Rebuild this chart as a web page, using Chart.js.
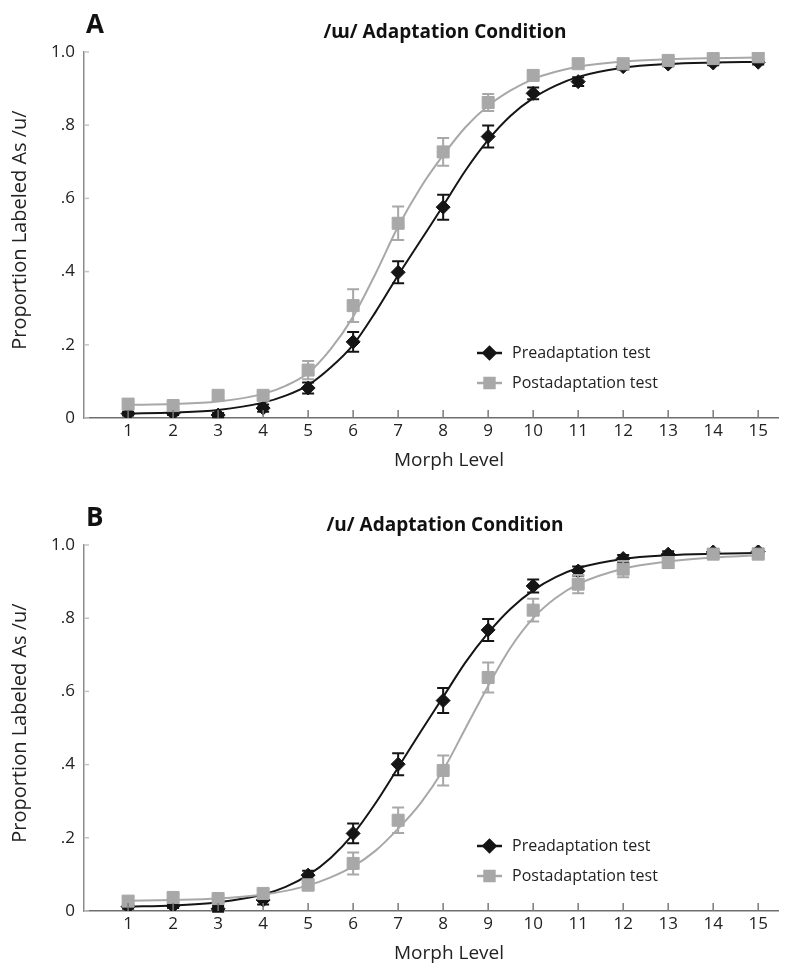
<!DOCTYPE html>
<html>
<head>
<meta charset="utf-8">
<title>Adaptation conditions</title>
<script src="https://cdn.jsdelivr.net/npm/chart.js@4.4.1/dist/chart.umd.min.js"></script>
<style>
  html, body { margin: 0; padding: 0; background: #fff; }
  canvas { position: absolute; left: 0; }
</style>
</head>
<body>
<canvas id="chartA" width="793" height="485" style="top:0px"></canvas>
<canvas id="chartB" width="793" height="477" style="top:493px"></canvas>
<script>
// categories / ticks
const morphLevels = [1, 2, 3, 4, 5, 6, 7, 8, 9, 10, 11, 12, 13, 14, 15];
const yTickValues = [0, 0.2, 0.4, 0.6, 0.8, 1.0];
const yTickLabels = ['0', '.2', '.4', '.6', '.8', '1.0'];
const seriesNames = ['Preadaptation test', 'Postadaptation test'];

// panel A: /ɯ/ adaptation
const preA = [0.012, 0.013, 0.008, 0.027, 0.082, 0.208, 0.398, 0.576, 0.769, 0.887, 0.919, 0.960, 0.967, 0.970, 0.972];
const preErrA = [0.005, 0.005, 0.006, 0.010, 0.015, 0.027, 0.030, 0.034, 0.030, 0.016, 0.012, 0.008, 0.006, 0.006, 0.006];
const postA = [0.038, 0.034, 0.062, 0.062, 0.131, 0.307, 0.532, 0.727, 0.862, 0.936, 0.968, 0.968, 0.977, 0.982, 0.987];
const postErrA = [0.008, 0.006, 0.010, 0.010, 0.025, 0.045, 0.046, 0.038, 0.023, 0.013, 0.010, 0.008, 0.008, 0.008, 0.008];

// panel B: /u/ adaptation
const preB = [0.012, 0.014, 0.006, 0.030, 0.098, 0.212, 0.401, 0.575, 0.768, 0.888, 0.929, 0.963, 0.975, 0.981, 0.982];
const preErrB = [0.006, 0.006, 0.008, 0.012, 0.012, 0.027, 0.030, 0.034, 0.030, 0.018, 0.012, 0.010, 0.008, 0.008, 0.008];
const postB = [0.027, 0.037, 0.034, 0.048, 0.071, 0.130, 0.248, 0.384, 0.638, 0.822, 0.893, 0.934, 0.952, 0.975, 0.975];
const postErrB = [0.008, 0.008, 0.008, 0.010, 0.015, 0.030, 0.035, 0.041, 0.041, 0.031, 0.025, 0.022, 0.015, 0.010, 0.010];

// fitted curves
const fitX = [1, 2, 3, 4, 4.5, 5, 5.5, 6, 6.5, 7, 7.5, 8, 8.5, 9, 9.5, 10, 10.5, 11, 12, 13, 14, 15];
const preFitA = [0.012, 0.015, 0.022, 0.042, 0.061, 0.090, 0.138, 0.200, 0.290, 0.390, 0.485, 0.580, 0.677, 0.760, 0.826, 0.874, 0.908, 0.932, 0.957, 0.967, 0.971, 0.973];
const postFitA = [0.036, 0.038, 0.045, 0.066, 0.088, 0.123, 0.188, 0.277, 0.395, 0.523, 0.630, 0.718, 0.795, 0.853, 0.895, 0.926, 0.946, 0.960, 0.974, 0.980, 0.983, 0.985];
const preFitB = [0.012, 0.015, 0.024, 0.045, 0.066, 0.098, 0.145, 0.210, 0.295, 0.392, 0.490, 0.585, 0.680, 0.760, 0.826, 0.876, 0.912, 0.937, 0.962, 0.972, 0.976, 0.978];
const postFitB = [0.028, 0.030, 0.034, 0.045, 0.055, 0.070, 0.092, 0.122, 0.165, 0.225, 0.295, 0.385, 0.500, 0.615, 0.720, 0.800, 0.855, 0.893, 0.935, 0.955, 0.966, 0.972];

const FONT = "'Open Sans', 'Noto Sans', sans-serif";
const BLACK = '#151515';
const GREY = '#a8a8a8';

function toPoints(xs, ys) {
    return xs.map((x, i) => ({ x: x, y: ys[i] }));
}

// error bars under each point dataset
const errorBars = {
    id: 'errorBars',
    beforeDatasetDraw(chart, args) {
        const ds = chart.data.datasets[args.index];
        if (!ds.errors) return;
        const ctx = chart.ctx;
        const xs = chart.scales.x, ys = chart.scales.y;
        ctx.save();
        ctx.strokeStyle = ds.borderColor;
        ctx.lineWidth = 2;
        ds.data.forEach((p, i) => {
            const e = ds.errors[i];
            const px = xs.getPixelForValue(p.x);
            const top = ys.getPixelForValue(p.y + e);
            const bot = ys.getPixelForValue(p.y - e);
            ctx.beginPath();
            ctx.moveTo(px, top); ctx.lineTo(px, bot);
            ctx.moveTo(px - 6, top); ctx.lineTo(px + 6, top);
            ctx.moveTo(px - 6, bot); ctx.lineTo(px + 6, bot);
            ctx.stroke();
        });
        ctx.restore();
    }
};

// titles, inner ticks, legend
const decor = {
    id: 'decor',
    afterDraw(chart, args, opts) {
        const ctx = chart.ctx;
        const xs = chart.scales.x, ys = chart.scales.y;
        const area = chart.chartArea;
        ctx.save();

        // inward tick marks
        ctx.lineWidth = 1.5;
        ctx.strokeStyle = '#c4c4c4';
        yTickValues.forEach(v => {
            const py = ys.getPixelForValue(v);
            ctx.beginPath();
            ctx.moveTo(area.left, py);
            ctx.lineTo(area.left + 5, py);
            ctx.stroke();
        });
        ctx.strokeStyle = '#7a7a7a';
        morphLevels.forEach(v => {
            const px = xs.getPixelForValue(v);
            ctx.beginPath();
            ctx.moveTo(px, area.bottom);
            ctx.lineTo(px, area.bottom - 8);
            ctx.stroke();
        });

        // panel letter + title
        ctx.fillStyle = '#111';
        ctx.textBaseline = 'alphabetic';
        ctx.textAlign = 'left';
        ctx.font = 'bold 26px ' + FONT;
        ctx.fillText(opts.letter, 86, 33);
        ctx.textAlign = 'center';
        ctx.font = 'bold 19px ' + FONT;
        ctx.fillText(opts.title, 445, 38);

        // axis titles
        ctx.fillStyle = '#222';
        ctx.font = '19px ' + FONT;
        ctx.fillText('Morph Level', 449, 466);
        ctx.save();
        ctx.translate(26, 230);
        ctx.rotate(-Math.PI / 2);
        ctx.font = '20px ' + FONT;
        ctx.fillText('Proportion Labeled As /u/', 0, 0);
        ctx.restore();

        // legend
        const rows = [
            { name: seriesNames[0], color: BLACK, style: 'rectRot', r: 6, y: 353 },
            { name: seriesNames[1], color: GREY, style: 'rect', r: 7, y: 383 }
        ];
        ctx.font = '16px ' + FONT;
        ctx.textAlign = 'left';
        ctx.textBaseline = 'middle';
        rows.forEach(row => {
            ctx.strokeStyle = row.color;
            ctx.fillStyle = row.color;
            ctx.lineWidth = 2.5;
            ctx.beginPath();
            ctx.moveTo(477, row.y);
            ctx.lineTo(502, row.y);
            ctx.stroke();
            Chart.helpers.drawPoint(ctx, { pointStyle: row.style, radius: row.r, rotation: 0, borderWidth: 1 }, 489.5, row.y);
            ctx.fillStyle = '#222';
            ctx.fillText(row.name, 512, row.y);
        });
        ctx.restore();
    }
};

function buildPanel(canvasId, letter, title, pre, preErr, post, postErr, preFit, postFit) {
    return new Chart(document.getElementById(canvasId), {
        type: 'scatter',
        data: {
            datasets: [
                {
                    label: seriesNames[1],
                    data: toPoints(morphLevels, post),
                    errors: postErr,
                    pointStyle: 'rect',
                    pointRadius: 8.5,
                    backgroundColor: GREY,
                    borderColor: GREY,
                    borderWidth: 1,
                    showLine: false
                },
                {
                    label: seriesNames[0],
                    data: toPoints(morphLevels, pre),
                    errors: preErr,
                    pointStyle: 'rectRot',
                    pointRadius: 7,
                    backgroundColor: BLACK,
                    borderColor: BLACK,
                    borderWidth: 1,
                    showLine: false
                },
                {
                    label: 'post fit',
                    data: toPoints(fitX, postFit),
                    showLine: true,
                    pointRadius: 0,
                    borderColor: GREY,
                    borderWidth: 2,
                    cubicInterpolationMode: 'monotone'
                },
                {
                    label: 'pre fit',
                    data: toPoints(fitX, preFit),
                    showLine: true,
                    pointRadius: 0,
                    borderColor: BLACK,
                    borderWidth: 2,
                    cubicInterpolationMode: 'monotone'
                }
            ]
        },
        options: {
            responsive: false,
            animation: false,
            events: [],
            layout: { padding: { left: 0, right: 15, top: 52, bottom: 0 } },
            plugins: {
                legend: { display: false },
                tooltip: { enabled: false },
                decor: { letter: letter, title: title }
            },
            scales: {
                x: {
                    type: 'linear',
                    min: 0.02,
                    max: 15.44,
                    afterBuildTicks: s => { s.ticks = morphLevels.map(v => ({ value: v })); },
                    afterFit: s => { s.height = s.chart.height - 418; },
                    ticks: {
                        autoSkip: false,
                        maxRotation: 0,
                        padding: 3,
                        color: '#222',
                        font: { family: FONT, size: 17 },
                        callback: v => String(v)
                    },
                    grid: { display: false, drawTicks: false },
                    border: { display: true, color: '#6e6e6e', width: 1.5 }
                },
                y: {
                    min: 0,
                    max: 1,
                    afterBuildTicks: s => { s.ticks = yTickValues.map(v => ({ value: v })); },
                    afterFit: s => { s.width = 84; },
                    ticks: {
                        padding: 9,
                        color: '#222',
                        font: { family: FONT, size: 17 },
                        callback: v => yTickLabels[yTickValues.indexOf(v)]
                    },
                    grid: { display: false, drawTicks: false },
                    border: { display: true, color: '#8c8c8c', width: 1.5 }
                }
            }
        },
        plugins: [errorBars, decor]
    });
}

buildPanel('chartA', 'A', '/ɯ/ Adaptation Condition', preA, preErrA, postA, postErrA, preFitA, postFitA);
buildPanel('chartB', 'B', '/u/ Adaptation Condition', preB, preErrB, postB, postErrB, preFitB, postFitB);
</script>
</body>
</html>
